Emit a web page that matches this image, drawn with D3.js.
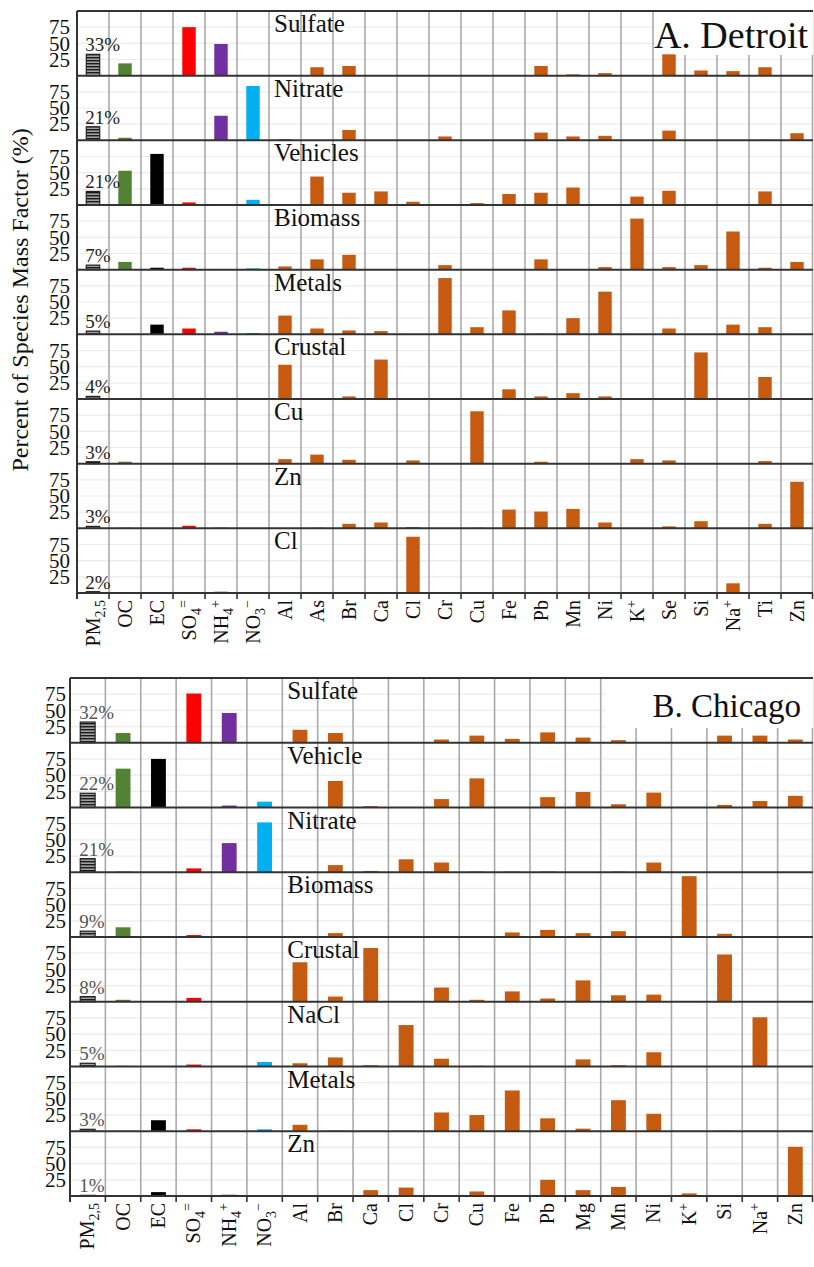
<!DOCTYPE html>
<html><head><meta charset="utf-8">
<script src="https://cdn.jsdelivr.net/npm/d3@7"></script>
<style>
body{margin:0;background:#fff}
svg text{font-family:"Liberation Serif","Times New Roman",Times,serif;}
</style>
</head><body><svg id="c" width="814" height="1267"></svg>
<script>
// ---------- DATA ----------
const detSpecies = ["PM2.5","OC","EC","SO4","NH4","NO3","Al","As","Br","Ca","Cl","Cr","Cu","Fe","Pb","Mn","Ni","K","Se","Si","Na","Ti","Zn"];
const chiSpecies = ["PM2.5","OC","EC","SO4","NH4","NO3","Al","Br","Ca","Cl","Cr","Cu","Fe","Pb","Mg","Mn","Ni","K","Si","Na","Zn"];

const detFactors = ["Sulfate","Nitrate","Vehicles","Biomass","Metals","Crustal","Cu","Zn","Cl"];
const detShares  = [33,21,21,7,5,4,3,3,2];
// values for species OC..Zn (PM2.5 bar = share)
const detSulfate  = [19,0,75,49,0, 0,13,15,1,0,0,1,0,15,2,4,0,33,8,7,13,1];
const detNitrate  = [4,0,0,38,84, 2,0,16,0,0,6,0,0,12,6,7,0,15,0,0,1,11];
const detVehicles = [53,79,4,1,8, 0,44,19,21,5,0,3,17,19,27,0,13,22,1,0,21,0];
const detBiomass  = [12,3,3,0,2, 5,16,23,0,0,7,0,0,16,1,4,79,4,7,59,3,12];
const detMetals   = [0,15,9,4,2, 29,9,6,5,0,87,11,37,1,25,66,0,9,0,15,11,0];
const detCrustal  = [1,0,0,1,1, 53,0,4,61,0,0,0,15,4,9,4,0,1,72,0,34,0];
const detCu       = [3,0,1,1,0, 7,14,6,1,5,0,81,1,3,1,0,7,5,0,0,4,1];
const detZn       = [1,0,4,1,0, 0,1,7,9,2,0,1,29,26,30,9,0,3,11,0,7,72];
const detCl       = [0,0,0,2,0, 0,0,1,0,87,0,0,0,0,0,0,0,0,0,15,0,0];

const chiFactors = ["Sulfate","Vehicle","Nitrate","Biomass","Crustal","NaCl","Metals","Zn"];
const chiShares  = [32,22,21,9,8,5,3,1];
const chiSulfate = [15,0,76,46,0, 20,15,0,0,5,11,6,16,8,4,0,0,11,11,5];
const chiVehicle = [60,75,0,3,9, 0,41,2,0,13,45,0,16,24,5,23,0,4,10,18];
const chiNitrate = [1,0,6,45,77, 0,11,2,20,15,1,1,1,0,1,15,0,0,0,0];
const chiBiomass = [15,0,3,0,0, 0,6,0,0,0,1,7,11,6,9,0,94,5,0,0];
const chiCrustal = [3,0,6,0,0, 61,8,83,0,22,3,16,5,33,10,11,0,73,0,0];
const chiNaCl    = [1,0,3,0,7, 5,14,2,64,12,1,0,0,11,2,22,0,0,76,0];
const chiMetals  = [0,17,3,0,3, 10,1,0,0,29,25,63,20,4,48,27,0,1,0,0];
const chiZn      = [0,6,0,2,1, 0,0,9,13,0,7,1,25,9,14,0,4,1,0,76];

const yTicks = [25,50,75];
const yTitle = "Percent of Species Mass Factor (%)";

// ---------- STYLE ----------
const colorOf = {OC:"#548235", EC:"#000000", SO4:"#ff0000", NH4:"#7030a0", NO3:"#00b0f0"};
const ELEM = "#c55a11";
const labelParts = {
  "PM2.5":[["PM"],["2,5","sub"]], "SO4":[["SO"],["4","sub"],["=","sup"]],
  "NH4":[["NH"],["4","sub"],["+","sup"]], "NO3":[["NO"],["3","sub"],["\u2212","sup"]],
  "K":[["K"],["+","sup"]], "Na":[["Na"],["+","sup"]]
};

const svg = d3.select("#c");
svg.append("rect").attr("width",814).attr("height",1267).attr("fill","#fff");
const defs = svg.append("defs");
const pat = defs.append("pattern").attr("id","hatch").attr("patternUnits","userSpaceOnUse")
  .attr("width",8).attr("height",3);
pat.append("rect").attr("width",8).attr("height",3).attr("fill","#a0a0a0");
pat.append("rect").attr("width",8).attr("height",1.4).attr("fill","#1a1a1a");

function drawPanel(o){
  const g = svg.append("g");
  const n = o.factors.length;
  const bottom = o.top + n*o.rowH;
  const x = d3.scaleBand().domain(o.species).range([o.left,o.right]).padding(0);
  const bw = x.bandwidth()*0.42;
  const gGrid = g.append("g"), gVert = g.append("g"), gBox = g.append("g"),
        gBars = g.append("g"), gLines = g.append("g"), gText = g.append("g");

  o.factors.forEach((f,i)=>{
    const y0 = o.top + i*o.rowH, y1 = y0 + o.rowH;
    const y = d3.scaleLinear().domain([0,100]).range([y1,y0]);
    gGrid.selectAll(null).data(yTicks).enter().append("line")
      .attr("x1",o.left).attr("x2",o.right).attr("y1",d=>y(d)).attr("y2",d=>y(d))
      .attr("stroke","#ececec").attr("stroke-width",1.2);
    const ax = gText.append("g").attr("transform",`translate(${o.left-o.ylabOff},0)`)
      .call(d3.axisLeft(y).tickValues(yTicks).tickSize(0).tickPadding(0));
    ax.select(".domain").remove();
    ax.selectAll("text").attr("font-size",21).attr("fill","#111");

    const vals = [o.shares[i]].concat(o.values[i]);
    const data = o.species.map((s,k)=>({s, v:vals[k]})).filter(d=>d.v>0);
    gBars.selectAll(null).data(data).enter().append("rect")
      .attr("x",d=>x(d.s)+(x.bandwidth()-bw)/2)
      .attr("width",bw)
      .attr("y",d=>y(d.v))
      .attr("height",d=>y(0)-y(d.v))
      .attr("fill",d=>d.s==="PM2.5"?"url(#hatch)":(colorOf[d.s]||ELEM))
      .attr("stroke",d=>d.s==="PM2.5"?"#222":"none")
      .attr("stroke-width",1.2);
    // share label
    gText.append("text").attr("x",x("PM2.5")+(x.bandwidth()-bw)/2-1)
      .attr("y",y(o.shares[i])-3).attr("font-size",19)
      .attr("fill",o.shareColor).text(o.shares[i]+"%");
    // factor name
    gText.append("text").attr("x",x("Al")+5).attr("y",y0+21)
      .attr("font-size",25).attr("fill","#111").text(f);
    // row separator
    gLines.append("line").attr("x1",o.left).attr("x2",o.right).attr("y1",y1).attr("y2",y1)
      .attr("stroke","#333").attr("stroke-width",2);
  });

  // vertical grid lines at band boundaries
  const bounds = o.species.slice(1).map(s=>x(s)).concat([o.right-0.5]);
  gVert.selectAll(null).data(bounds).enter().append("line")
    .attr("x1",d=>d).attr("x2",d=>d).attr("y1",o.top).attr("y2",bottom)
    .attr("stroke","#aaaaaa").attr("stroke-width",1.6);
  // ticks below axis
  gLines.selectAll(null).data([o.left].concat(bounds)).enter().append("line")
    .attr("x1",d=>d).attr("x2",d=>d).attr("y1",bottom).attr("y2",bottom+6)
    .attr("stroke","#333").attr("stroke-width",1.6);
  // top border and left axis
  gLines.append("line").attr("x1",o.left).attr("x2",o.right).attr("y1",o.top).attr("y2",o.top)
    .attr("stroke","#333").attr("stroke-width",2);
  gLines.append("line").attr("x1",o.left).attr("x2",o.left).attr("y1",o.top).attr("y2",bottom+6)
    .attr("stroke","#333").attr("stroke-width",2);

  // title box
  gBox.append("rect").attr("x",o.box[0]).attr("y",o.top+1).attr("width",o.right-o.box[0])
    .attr("height",o.box[1]).attr("fill","#fff");
  gText.append("text").attr("x",o.titleX).attr("y",o.titleY).attr("text-anchor","end")
    .attr("font-size",o.titleSize).attr("fill","#111").text(o.title);

  // x axis labels
  const xa = gText.append("g").attr("transform",`translate(0,${bottom})`)
    .call(d3.axisBottom(x).tickSize(0));
  xa.select(".domain").remove();
  xa.selectAll(".tick text").each(function(d){
    const t = d3.select(this).text(null);
    const parts = labelParts[d] || [[d]];
    parts.forEach(p=>{
      const ts = t.append("tspan").text(p[0]);
      if(p[1]==="sub") ts.attr("font-size",14).attr("baseline-shift",-5);
      if(p[1]==="sup") ts.attr("font-size",14).attr("baseline-shift",8);
    });
  })
  .attr("transform","rotate(-90)").attr("text-anchor","end")
  .attr("x",-7).attr("y",0).attr("dy","0.33em")
  .attr("font-size",20).attr("fill","#111");
}

drawPanel({species:detSpecies, factors:detFactors, shares:detShares,
  values:[detSulfate,detNitrate,detVehicles,detBiomass,detMetals,detCrustal,detCu,detZn,detCl],
  left:77, right:813, top:11, rowH:(593-11)/9, ylabOff:7, shareColor:"#222",
  box:[655,43], title:"A. Detroit", titleX:808, titleY:48, titleSize:38});

drawPanel({species:chiSpecies, factors:chiFactors, shares:chiShares,
  values:[chiSulfate,chiVehicle,chiNitrate,chiBiomass,chiCrustal,chiNaCl,chiMetals,chiZn],
  left:70, right:813, top:678, rowH:(1196-678)/8, ylabOff:4, shareColor:"#555",
  box:[605,49], title:"B. Chicago", titleX:801, titleY:717, titleSize:33});

svg.append("text").attr("transform","translate(28,300) rotate(-90)")
  .attr("text-anchor","middle").attr("font-size",24)
  .attr("fill","#111").text(yTitle);
</script></body></html>
